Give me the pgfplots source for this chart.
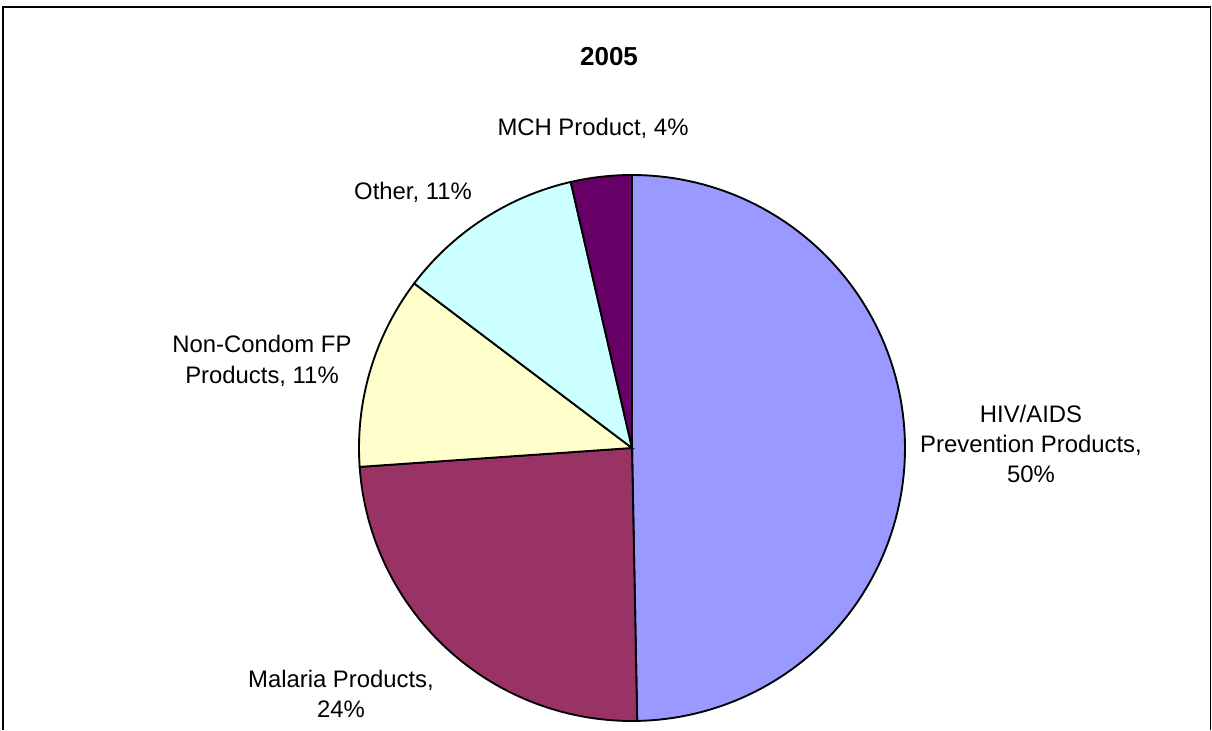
\documentclass[border=0pt]{standalone}
\usepackage{pgfplots}
\usepackage{pgfplotstable}
\pgfplotsset{compat=1.18}
\usepackage{fontspec}
\setmainfont{Liberation Sans}
\definecolor{cHIV}{HTML}{9999FF}
\definecolor{cMal}{HTML}{993366}
\definecolor{cNC}{HTML}{FFFFCC}
\definecolor{cOth}{HTML}{CCFFFF}
\definecolor{cMCH}{HTML}{660066}
\pgfplotstableread{
label value
HIV 49.7
Malaria 24.2
NonCondom 11.4
Other 11.1
MCH 3.6
}\piedata
\begin{document}
\begin{tikzpicture}
\pgfplotstablegetelem{0}{value}\of\piedata \let\vA\pgfplotsretval
\pgfplotstablegetelem{1}{value}\of\piedata \let\vB\pgfplotsretval
\pgfplotstablegetelem{2}{value}\of\piedata \let\vC\pgfplotsretval
\pgfplotstablegetelem{3}{value}\of\piedata \let\vD\pgfplotsretval
\pgfplotstablegetelem{4}{value}\of\piedata \let\vE\pgfplotsretval
\pgfmathsetmacro\tot{\vA+\vB+\vC+\vD+\vE}
\pgfmathsetmacro\aA{90}
\pgfmathsetmacro\aB{\aA-360*(\vA/\tot)}
\pgfmathsetmacro\aC{\aB-360*(\vB/\tot)}
\pgfmathsetmacro\aD{\aC-360*(\vC/\tot)}
\pgfmathsetmacro\aE{\aD-360*(\vD/\tot)}
\pgfmathsetmacro\aF{\aE-360*(\vE/\tot)}
\def\cx{632}\def\cy{282}\def\R{273}
\begin{axis}[
  width=909pt, height=547.5pt, scale only axis,
  xmin=0, xmax=1212, ymin=0, ymax=730,
  hide axis, clip=false,
  samples=120,
]
\fill[white] (axis cs:0,0) rectangle (axis cs:1212,730);
\draw[black, line width=0.9pt] (axis cs:3,0) -- (axis cs:3,723) -- (axis cs:1210.5,723) -- (axis cs:1210.5,0);
\addplot[fill=cHIV, draw=black, line width=1.4pt, domain=\aB:\aA] ({\cx+\R*cos(x)},{\cy+\R*sin(x)}) -- (axis cs:\cx,\cy) -- cycle;
\addplot[fill=cMal, draw=black, line width=1.4pt, domain=\aC:\aB] ({\cx+\R*cos(x)},{\cy+\R*sin(x)}) -- (axis cs:\cx,\cy) -- cycle;
\addplot[fill=cNC, draw=black, line width=1.4pt, domain=\aD:\aC] ({\cx+\R*cos(x)},{\cy+\R*sin(x)}) -- (axis cs:\cx,\cy) -- cycle;
\addplot[fill=cOth, draw=black, line width=1.4pt, domain=\aE:\aD] ({\cx+\R*cos(x)},{\cy+\R*sin(x)}) -- (axis cs:\cx,\cy) -- cycle;
\addplot[fill=cMCH, draw=black, line width=1.4pt, domain=\aF:\aE] ({\cx+\R*cos(x)},{\cy+\R*sin(x)}) -- (axis cs:\cx,\cy) -- cycle;
\node[font=\fontsize{19.5}{23}\selectfont\bfseries, inner sep=0pt] at (axis cs:609,673) {2005};
\node[font=\fontsize{17.9}{22.8}\selectfont, inner sep=0pt, align=center] at (axis cs:593,602) {MCH Product, 4\%};
\node[font=\fontsize{17.9}{22.8}\selectfont, inner sep=0pt, align=center] at (axis cs:413,538) {Other, 11\%};
\node[font=\fontsize{17.9}{22.8}\selectfont, inner sep=0pt, align=center] at (axis cs:262,369) {Non-Condom FP\\Products, 11\%};
\node[font=\fontsize{17.9}{22.8}\selectfont, inner sep=0pt, align=center] at (axis cs:1031,286) {HIV/AIDS\\Prevention Products,\\50\%};
\node[font=\fontsize{17.9}{22.8}\selectfont, inner sep=0pt, align=center] at (axis cs:341,36) {Malaria Products,\\24\%};
\end{axis}
\end{tikzpicture}
\end{document}
